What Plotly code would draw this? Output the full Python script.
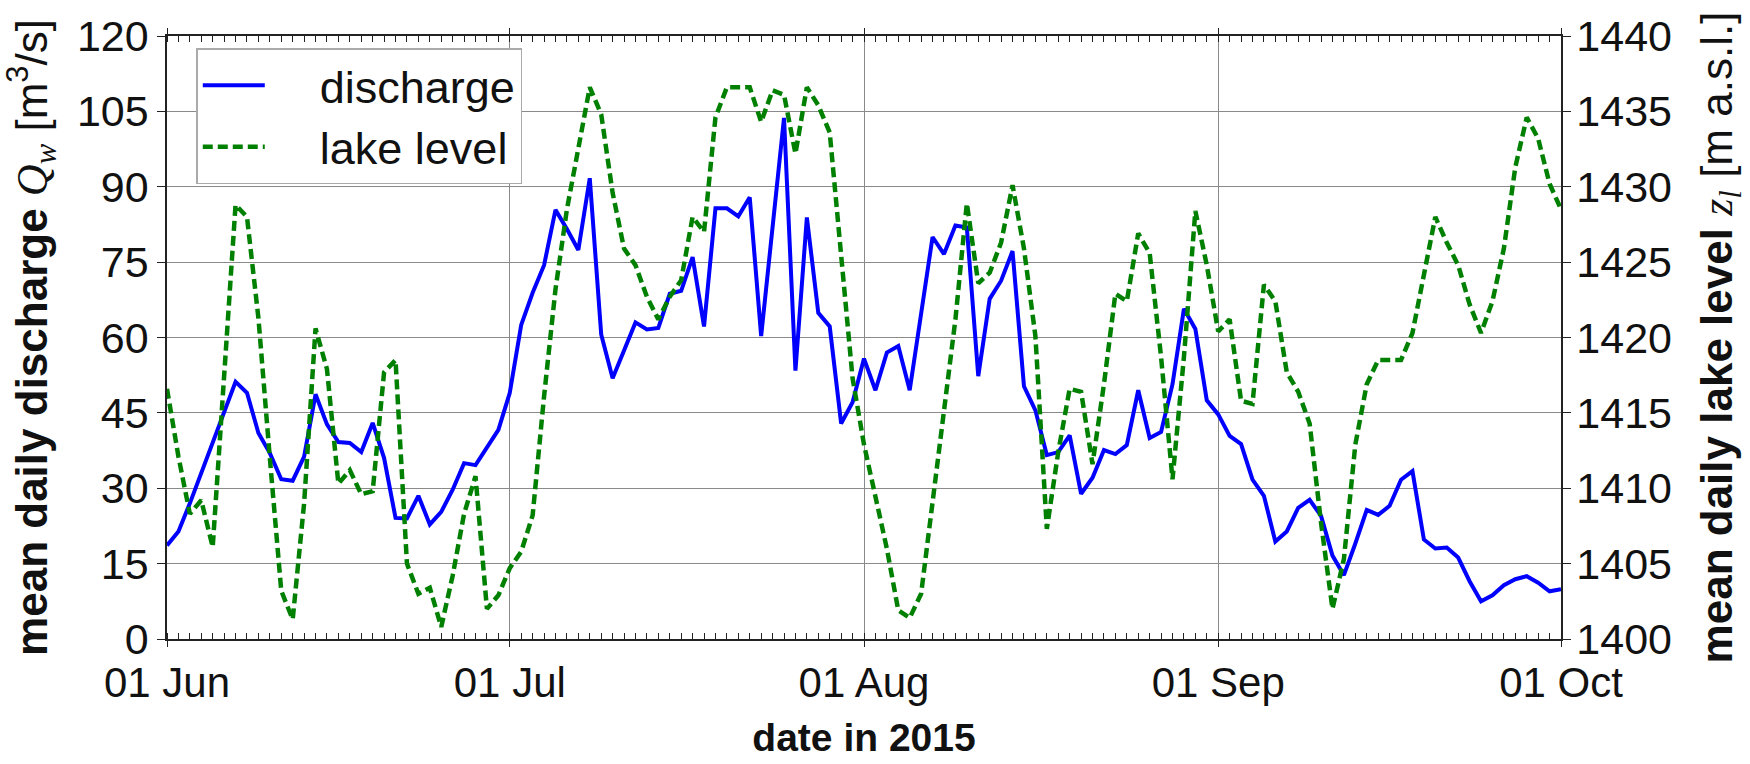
import pandas as pd
import plotly.graph_objects as go

# ---------------- data ----------------
start_date = "2015-06-01"
end_date = "2015-10-01"
month_ticks = ["2015-06-01", "2015-07-01", "2015-08-01", "2015-09-01", "2015-10-01"]

# mean daily discharge Q_w [m^3/s]
discharge_jun = [18.6, 21.4, 27.0, 33.0, 38.8, 45.0, 51.2, 49.0, 41.0, 37.0,
                 31.8, 31.5, 36.3, 48.7, 42.7, 39.2, 39.0, 37.2, 43.0, 36.0,
                 24.1, 24.0, 28.5, 22.8, 25.3, 29.7, 35.0, 34.6, 38.0, 41.6]
discharge_jul = [49.0, 62.5, 68.9, 74.4, 85.4, 81.6, 77.4, 91.7, 60.6, 51.9,
                 57.4, 63.0, 61.6, 61.9, 68.7, 69.3, 76.0, 62.2, 85.7, 85.7,
                 84.1, 87.9, 60.3, 82.0, 103.7, 53.4, 83.9, 64.9, 62.2, 42.9,
                 47.1]
discharge_aug = [55.8, 49.5, 57.0, 58.3, 49.5, 64.9, 80.0, 76.6, 82.3, 81.9,
                 52.3, 67.7, 71.3, 77.2, 50.3, 45.5, 36.6, 37.2, 40.5, 28.9,
                 32.1, 37.6, 36.8, 38.6, 49.5, 40.0, 41.2, 50.7, 65.7, 61.7,
                 47.5]
discharge_sep = [44.7, 40.4, 38.8, 31.7, 28.5, 19.4, 21.4, 26.1, 27.7, 24.5,
                 16.6, 12.7, 19.0, 25.7, 24.7, 26.5, 31.7, 33.4, 19.8, 18.0,
                 18.2, 16.2, 11.5, 7.5, 8.7, 10.7, 11.9, 12.5, 11.2, 9.5]
discharge_oct = [9.9]

# mean daily lake level z_l [m a.s.l.]
lake_jun = [1416.6, 1412.1, 1408.3, 1409.2, 1406.1, 1417.3, 1428.8, 1428.0, 1421.3, 1412.0,
            1403.2, 1401.3, 1409.0, 1420.6, 1417.9, 1410.3, 1411.2, 1409.6, 1409.8, 1417.7,
            1418.5, 1405.0, 1403.0, 1403.4, 1400.8, 1404.2, 1408.3, 1410.8, 1402.0, 1402.9]
lake_jul = [1404.7, 1405.8, 1408.2, 1416.1, 1423.2, 1428.5, 1432.7, 1436.6, 1434.8, 1429.6,
            1425.9, 1424.8, 1422.7, 1421.2, 1422.7, 1423.8, 1428.0, 1427.0, 1434.6, 1436.6,
            1436.6, 1436.6, 1434.3, 1436.4, 1436.1, 1432.2, 1436.6, 1435.4, 1433.6, 1425.8,
            1417.3]
lake_aug = [1412.9, 1409.6, 1406.0, 1401.9, 1401.4, 1403.0, 1409.0, 1414.8, 1421.2, 1428.9,
            1423.6, 1424.3, 1426.3, 1430.1, 1425.9, 1420.1, 1407.3, 1412.4, 1416.6, 1416.4,
            1411.6, 1416.9, 1422.9, 1422.4, 1426.9, 1425.6, 1418.7, 1410.6, 1418.7, 1428.4,
            1424.8]
lake_sep = [1420.4, 1421.2, 1415.8, 1415.6, 1423.5, 1422.4, 1417.7, 1416.4, 1414.3, 1407.7,
            1402.0, 1405.3, 1412.9, 1416.9, 1418.5, 1418.5, 1418.5, 1420.3, 1424.3, 1428.0,
            1426.3, 1424.8, 1422.2, 1420.3, 1422.4, 1425.9, 1431.3, 1434.6, 1433.2, 1430.2]
lake_oct = [1428.5]

discharge_ticks = [0, 15, 30, 45, 60, 75, 90, 105, 120]
lake_ticks = [1400, 1405, 1410, 1415, 1420, 1425, 1430, 1435, 1440]

# ---------------- build ----------------
dates = pd.date_range(start_date, end_date, freq="D")
discharge = discharge_jun + discharge_jul + discharge_aug + discharge_sep + discharge_oct
lake = lake_jun + lake_jul + lake_aug + lake_sep + lake_oct

NB = "\u00a0"
SANS = "Liberation Sans, Arial, sans-serif"

fig = go.Figure()
fig.add_trace(go.Scatter(
    x=dates, y=discharge, name=NB * 4 + "discharge", mode="lines",
    line=dict(color="#0000ff", width=4), legendgroup="q", yaxis="y"))
fig.add_trace(go.Scatter(
    x=dates, y=lake, name=NB * 4 + "lake level", mode="lines",
    line=dict(color="#008000", width=4.5, dash="10px,5px"), legendgroup="z", yaxis="y2"))

axis_col = "#222222"
grid_col = "#8a8a8a"
tick_font = dict(family=SANS, size=43, color="#111111")

left_title = ("<b>mean daily discharge</b> "
              "<span style='font-family:Liberation Serif'><i>Q<sub>w</sub></i></span> "
              "[m<sup>3</sup>/s]")
right_title = ("<b>mean daily lake level</b> "
               "<span style='font-family:Liberation Serif'><i>z<sub>l</sub></i></span> "
               "[m a.s.l.]")

fig.update_layout(
    width=1750, height=764, autosize=False,
    margin=dict(l=167, r=189, t=30, b=115, pad=0),
    paper_bgcolor="white", plot_bgcolor="white",
    font=dict(family=SANS, color="#111111"),
    showlegend=True,
    legend=dict(
        x=0.021, y=0.98, xanchor="left", yanchor="top",
        bgcolor="white", bordercolor="#aaaaaa", borderwidth=1.5,
        font=dict(size=45, family=SANS, color="#111111"),
        traceorder="grouped", tracegroupgap=0, itemwidth=62,
    ),
    xaxis=dict(
        type="date", range=[start_date, end_date],
        tickmode="array", tickvals=month_ticks, tickformat="%d %b",
        tickfont=dict(family=SANS, size=42, color="#111111"),
        ticks="outside", ticklen=6, tickcolor=axis_col,
        showgrid=True, gridcolor=grid_col, gridwidth=1,
        showline=True, linecolor=axis_col, linewidth=1.5, mirror="allticks",
        minor=dict(dtick=86400000, ticks="inside", ticklen=5, tickcolor=axis_col, showgrid=False),
        title=dict(text="<b>date in 2015</b>", standoff=19,
                   font=dict(size=39, family=SANS, color="#111111")),
        zeroline=False,
    ),
    yaxis=dict(
        range=[0, 120], tickmode="array", tickvals=discharge_ticks,
        tickfont=tick_font,
        ticks="outside", ticklen=8, tickcolor=axis_col,
        showgrid=True, gridcolor=grid_col, gridwidth=1,
        showline=True, linecolor=axis_col, linewidth=1.5,
        zeroline=False,
        title=dict(text=left_title, standoff=16,
                   font=dict(size=44, family=SANS, color="#111111")),
    ),
    yaxis2=dict(
        range=[1400, 1440], tickmode="array", tickvals=lake_ticks,
        overlaying="y", side="right",
        tickfont=tick_font,
        ticks="outside", ticklen=8, tickcolor=axis_col, ticklabelstandoff=-3,
        showgrid=False,
        showline=True, linecolor=axis_col, linewidth=1.5,
        zeroline=False,
        title=dict(text=right_title, standoff=30,
                   font=dict(size=44, family=SANS, color="#111111")),
    ),
)

fig.write_html("out.html")
